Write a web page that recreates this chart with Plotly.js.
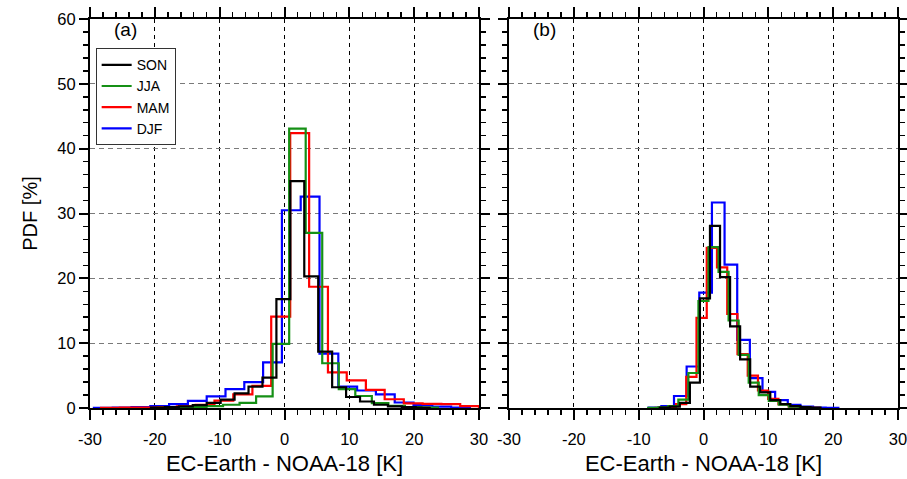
<!DOCTYPE html>
<html>
<head>
<meta charset="utf-8">
<script src="https://cdn.plot.ly/plotly-3.0.1.min.js"></script>
<style>html,body{margin:0;padding:0;background:#fff;}#chart{width:907px;height:479px;}</style>
</head>
<body>
<div id="chart"></div>
<script>
// ---------- Panel (a): bin edges [K] and PDF values [%] ----------
const edgesDJF_a = [-29.4, -26.5, -23.6, -20.7, -17.8, -14.9, -12.0, -9.1, -6.2, -3.3, -0.4, 2.5, 5.4, 8.3, 11.2, 14.1, 17.0, 19.9, 22.8, 25.7, 28.6];
const pdfDJF_a   = [0.03, 0.06, 0.12, 0.3, 0.6, 1.1, 1.8, 2.9, 4.0, 7.05, 30.5, 32.6, 8.4, 3.3, 2.7, 2.1, 0.85, 0.45, 0.2, 0.08];

const edgesMAM_a = [-28.3, -25.4, -22.45, -19.55, -16.6, -13.7, -10.8, -7.9, -4.95, -2.05, 0.88, 3.8, 6.7, 9.6, 12.55, 15.45, 18.4, 21.3, 24.2, 27.1, 30.0];
const pdfMAM_a   = [0.02, 0.05, 0.08, 0.15, 0.25, 0.5, 1.15, 2.1, 3.4, 14.1, 42.4, 18.7, 5.5, 4.25, 2.8, 1.35, 0.7, 0.65, 0.6, 0.3];

const edgesJJA_a = [-19.68, -17.13, -14.58, -12.03, -9.48, -6.93, -4.38, -1.83, 0.72, 3.27, 5.82, 8.37, 10.92, 13.47, 16.02, 18.57, 21.12, 23.67];
const pdfJJA_a   = [0.03, 0.08, 0.15, 0.3, 0.5, 0.8, 1.8, 9.9, 43.1, 27.0, 6.9, 2.9, 1.85, 0.75, 0.35, 0.15, 0.05];

const edgesSON_a = [-20.6, -18.45, -16.3, -14.15, -12.0, -9.85, -7.7, -5.55, -3.4, -1.25, 0.9, 3.05, 5.2, 7.35, 9.5, 11.65, 13.8, 15.95, 18.1, 20.25, 22.4];
const pdfSON_a   = [0.05, 0.12, 0.25, 0.45, 0.8, 1.3, 2.25, 3.3, 4.7, 16.8, 35.0, 20.3, 8.7, 3.2, 1.7, 1.0, 0.5, 0.25, 0.12, 0.05];

// ---------- Panel (b) ----------
const edgesDJF_b = [-8.45, -6.5, -4.55, -2.6, -0.65, 1.3, 3.25, 5.2, 7.15, 9.1, 11.05, 13.0, 14.95, 16.9, 18.85, 20.8];
const pdfDJF_b   = [0.05, 0.3, 1.85, 6.4, 17.8, 31.7, 22.1, 10.5, 4.6, 2.5, 1.2, 0.5, 0.2, 0.08, 0.03];

const edgesMAM_b = [-7.4, -5.82, -4.24, -2.66, -1.08, 0.5, 2.08, 3.66, 5.24, 6.82, 8.4, 9.98, 11.56, 13.14, 14.72, 16.3, 17.88];
const pdfMAM_b   = [0.03, 0.1, 0.6, 4.8, 13.9, 24.7, 21.7, 14.5, 8.3, 5.0, 2.7, 1.4, 0.6, 0.25, 0.1, 0.04];

const edgesJJA_b = [-8.53, -6.98, -5.43, -3.88, -2.33, -0.78, 0.77, 2.32, 3.87, 5.42, 6.97, 8.52, 10.07, 11.62, 13.17, 14.72, 16.27];
const pdfJJA_b   = [0.03, 0.1, 0.3, 1.3, 5.4, 16.5, 24.8, 21.0, 13.5, 8.2, 3.9, 2.0, 1.1, 0.5, 0.2, 0.08];

const edgesSON_b = [-6.75, -5.2, -3.65, -2.1, -0.55, 1.0, 2.55, 4.1, 5.65, 7.2, 8.75, 10.3, 11.85, 13.4, 14.95, 16.5, 18.05];
const pdfSON_b   = [0.05, 0.2, 0.8, 3.9, 16.9, 28.1, 20.2, 12.6, 7.5, 3.3, 2.4, 1.2, 0.6, 0.3, 0.12, 0.05];

const seasons = ["SON", "JJA", "MAM", "DJF"];
const xTickVals = [-30, -20, -10, 0, 10, 20, 30];
const yTickVals = [0, 10, 20, 30, 40, 50, 60];
const xLabel = "EC-Earth - NOAA-18 [K]";
const yLabel = "PDF [%]";
const panelLabels = ["(a)", "(b)"];

const colors = {SON: "#000000", JJA: "#159015", MAM: "#ff0000", DJF: "#0000ff"};

function stepTrace(edges, vals, name, xa, ya, showLegend) {
  return {
    type: "scatter", mode: "lines",
    x: [edges[0]].concat(edges),
    y: [0].concat(vals, [0]),
    line: {shape: "hv", color: colors[name], width: 2.2},
    name: name, xaxis: xa, yaxis: ya,
    showlegend: showLegend, legendgroup: name, hoverinfo: "skip"
  };
}

const data = [
  stepTrace(edgesDJF_a, pdfDJF_a, "DJF", "x", "y", true),
  stepTrace(edgesMAM_a, pdfMAM_a, "MAM", "x", "y", true),
  stepTrace(edgesJJA_a, pdfJJA_a, "JJA", "x", "y", true),
  stepTrace(edgesSON_a, pdfSON_a, "SON", "x", "y", true),
  stepTrace(edgesDJF_b, pdfDJF_b, "DJF", "x2", "y2", false),
  stepTrace(edgesMAM_b, pdfMAM_b, "MAM", "x2", "y2", false),
  stepTrace(edgesJJA_b, pdfJJA_b, "JJA", "x2", "y2", false),
  stepTrace(edgesSON_b, pdfSON_b, "SON", "x2", "y2", false)
];

const font = {family: "Liberation Sans, Arial, sans-serif", color: "#000"};

function xAxis(domain, anchor) {
  return {
    domain: domain, anchor: anchor, range: [-30, 30],
    tickmode: "array", tickvals: xTickVals, ticktext: xTickVals.map(String),
    ticks: "outside", ticklen: 10, tickwidth: 2, tickcolor: "#000",
    ticklabelstandoff: 5, ticklabeloverflow: "allow",
    minor: {dtick: 2, ticks: "outside", ticklen: 5, tickwidth: 1.5, tickcolor: "#000", showgrid: false},
    showline: true, linewidth: 2, linecolor: "#000", mirror: "allticks",
    showgrid: true, gridcolor: "#000", gridwidth: 1, griddash: "4px,4px",
    zeroline: false,
    tickfont: {family: font.family, size: 16.5, color: "#000"},
    title: {text: xLabel, font: {family: font.family, size: 22, color: "#000"}, standoff: 9}
  };
}
function yAxis(anchor, showLabels) {
  return {
    domain: [0, 1], anchor: anchor, range: [0, 60],
    tickmode: "array", tickvals: yTickVals, ticktext: yTickVals.map(String),
    showticklabels: showLabels,
    ticks: "outside", ticklen: 9, tickwidth: 2, tickcolor: "#000",
    minor: {dtick: 2, ticks: "outside", ticklen: 5, tickwidth: 1.5, tickcolor: "#000", showgrid: false},
    showline: true, linewidth: 2, linecolor: "#000", mirror: "allticks",
    showgrid: true, gridcolor: "#7a7a7a", gridwidth: 1.3, griddash: "5px,4px",
    zeroline: false,
    tickfont: {family: font.family, size: 16.5, color: "#000"},
    title: showLabels ? {text: yLabel, font: {family: font.family, size: 20, color: "#000"}, standoff: 14} : {text: ""}
  };
}

const layout = {
  width: 907, height: 479,
  margin: {l: 90, r: 9, t: 19, b: 71, pad: 0},
  paper_bgcolor: "#fff", plot_bgcolor: "#fff",
  font: font,
  xaxis: xAxis([0, 389 / 808], "y"),
  yaxis: yAxis("x", true),
  xaxis2: xAxis([419 / 808, 1], "y2"),
  yaxis2: yAxis("x2", false),
  legend: {
    x: 0.007, y: 0.925, xanchor: "left", yanchor: "top",
    bgcolor: "#fff", bordercolor: "#333", borderwidth: 1,
    traceorder: "reversed",
    font: {family: font.family, size: 14, color: "#000"},
    tracegroupgap: 0
  },
  annotations: [
    {text: panelLabels[0], xref: "x", yref: "y", x: -24.5, y: 58.4, showarrow: false,
     font: {family: font.family, size: 19, color: "#000"}},
    {text: panelLabels[1], xref: "x2", yref: "y2", x: -24.5, y: 58.4, showarrow: false,
     font: {family: font.family, size: 19, color: "#000"}}
  ]
};

Plotly.newPlot("chart", data, layout, {staticPlot: true, displayModeBar: false});
</script>
</body>
</html>
